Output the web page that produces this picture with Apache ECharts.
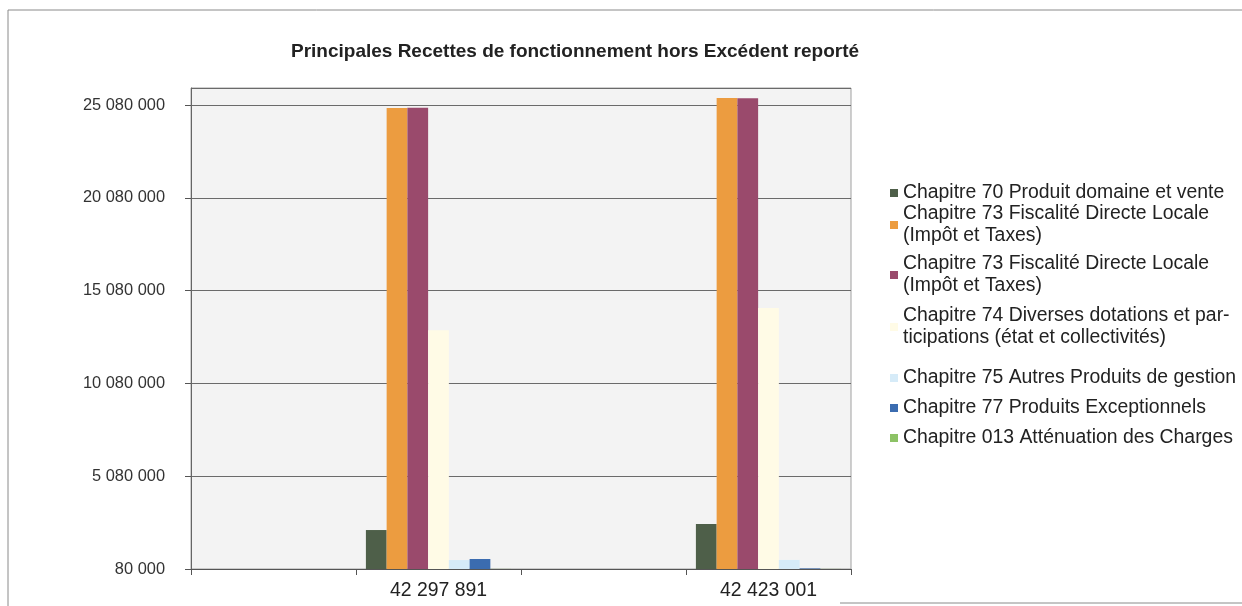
<!DOCTYPE html>
<html>
<head>
<meta charset="utf-8">
<script src="https://cdn.jsdelivr.net/npm/echarts@6/dist/echarts.min.js"></script>
<style>
  html, body { margin: 0; padding: 0; background: #ffffff; }
  #chart { width: 1242px; height: 606px; }
</style>
</head>
<body>
<div id="chart"></div>
<script>
// Category labels (totals per year); alternate slots are left blank
const categories = ['', '42 297 891', '', '42 423 001'];

// Series identifiers and the text shown for each in the legend
const seriesKeys = ['ch70', 'ch73a', 'ch73b', 'ch74', 'ch75', 'ch77', 'ch013'];
const legendLabels = [
  'Chapitre 70 Produit domaine et vente',
  'Chapitre 73 Fiscalité Directe Locale\n(Impôt et Taxes)',
  'Chapitre 73 Fiscalité Directe Locale\n(Impôt et Taxes)',
  'Chapitre 74 Diverses dotations et par-\nticipations (état et collectivités)',
  'Chapitre 75 Autres Produits de gestion',
  'Chapitre 77 Produits Exceptionnels',
  'Chapitre 013 Atténuation des Charges'
];

// Amounts in euros, one value per category slot
const ch70  = [null, 2180000,  null, 2500000];
const ch73a = [null, 24920000, null, 25460000];
const ch73b = [null, 24930000, null, 25450000];
const ch74  = [null, 12950000, null, 14150000];
const ch75  = [null, 560000,   null, 570000];
const ch77  = [null, 620000,   null, 110000];
const ch013 = [null, 85000,    null, 85000];

// Value-axis tick labels
const yTickValues = [80000, 5080000, 10080000, 15080000, 20080000, 25080000];
const yAxisTop = 26000000;

const seriesValues = [ch70, ch73a, ch73b, ch74, ch75, ch77, ch013];
const seriesColors = ['#4e5f49', '#ec9c40', '#9a4a6c', '#fffbe6', '#d6ebf8', '#3b6cb0', '#8cc265'];

// Legend rows: centre of the first text line for each entry
const legendRowCenters = [188, 220, 270, 322, 373, 403, 433];
const legendLine = 22;

function groupThousands(v) {
  return String(v).replace(/\B(?=(\d{3})+(?!\d))/g, ' ');
}

const chart = echarts.init(document.getElementById('chart'), null, { renderer: 'canvas' });

const legends = seriesKeys.map((key, i) => {
  const twoLines = legendLabels[i].indexOf('\n') >= 0;
  return {
    orient: 'vertical',
    left: 885,
    top: legendRowCenters[i] - (twoLines ? legendLine * 1.5 : legendLine / 2),
    itemWidth: 8,
    itemHeight: 8,
    itemGap: 0,
    icon: 'rect',
    selectedMode: false,
    data: [{
      name: key,
      textStyle: twoLines ? { padding: [legendLine, 0, 0, 0] } : {}
    }],
    formatter: () => legendLabels[i],
    textStyle: {
      fontFamily: "'Liberation Sans', Arial, sans-serif",
      fontSize: 19.4,
      lineHeight: legendLine,
      color: '#222'
    }
  };
});

const option = {
  backgroundColor: '#ffffff',
  animation: false,
  title: {
    text: 'Principales Recettes de fonctionnement hors Excédent reporté',
    left: 570,
    textAlign: 'center',
    top: 37,
    textStyle: {
      fontFamily: "'Liberation Sans Narrow', 'Liberation Sans', Arial, sans-serif",
      fontWeight: 'bold',
      fontSize: 19,
      color: '#222'
    }
  },
  legend: legends,
  grid: {
    left: 191,
    right: 391,
    top: 88,
    bottom: 37,
    show: true,
    backgroundColor: '#f3f3f3',
    borderColor: '#a0a0a0',
    borderWidth: 1
  },
  xAxis: {
    type: 'category',
    data: categories,
    axisLine: { lineStyle: { color: '#555', width: 1 } },
    axisTick: { show: true, alignWithLabel: false, length: 6, interval: 0, lineStyle: { color: '#555' } },
    axisLabel: {
      interval: 0,
      margin: 12,
      fontFamily: "'Liberation Sans', Arial, sans-serif",
      fontSize: 19.4,
      color: '#222'
    }
  },
  yAxis: {
    type: 'value',
    min: yTickValues[0],
    max: yAxisTop,
    interval: yTickValues[1] - yTickValues[0],
    axisLine: { show: true, lineStyle: { color: '#666', width: 1 } },
    axisTick: { show: true, length: 6, lineStyle: { color: '#555' } },
    splitLine: { show: true, lineStyle: { color: '#6a6a6a', width: 1 } },
    axisLabel: {
      margin: 26,
      showMaxLabel: false,
      formatter: groupThousands,
      fontFamily: "'Liberation Sans', Arial, sans-serif",
      fontSize: 16.4,
      color: '#333'
    }
  },
  series: seriesKeys.map((key, i) => ({
    name: key,
    type: 'bar',
    data: seriesValues[i],
    barGap: '0%',
    barCategoryGap: '12%',
    itemStyle: { color: seriesColors[i] }
  })),
  graphic: [
    // outer frame of the chart object
    { type: 'polyline', silent: true, shape: { points: [[8, 606], [8, 10], [1242, 10]] },
      style: { stroke: '#8a8a8a', lineWidth: 1, fill: null } },
    { type: 'line', silent: true, shape: { x1: 840, y1: 603, x2: 1242, y2: 603 },
      style: { stroke: '#8a8a8a', lineWidth: 1 } }
  ]
};

chart.setOption(option);
</script>
</body>
</html>
